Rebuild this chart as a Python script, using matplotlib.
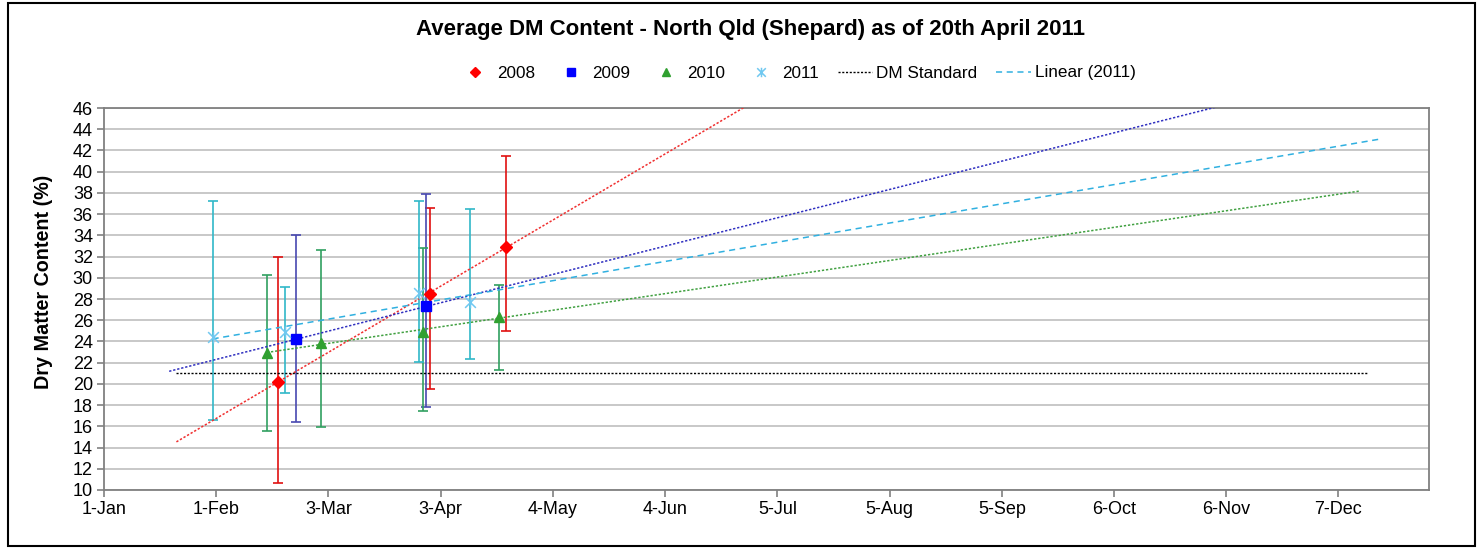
import numpy as np
import matplotlib.pyplot as plt
from matplotlib.path import Path
from matplotlib.patches import Rectangle

plt.rcParams['font.family'] = ['Liberation Sans', 'DejaVu Sans']

# x values are day of year (0 = 1-Jan), y values are DM % (mean, upper, lower)
days_2008 = [48, 90, 111]
dm_2008 = [20.2, 28.5, 32.9]
hi_2008 = [32.0, 36.6, 41.5]
lo_2008 = [10.7, 19.5, 25.0]

days_2009 = [53, 89]
dm_2009 = [24.2, 27.3]
hi_2009 = [34.0, 37.9]
lo_2009 = [16.4, 17.8]

days_2010 = [45, 60, 88, 109]
dm_2010 = [22.9, 23.9, 24.9, 26.3]
hi_2010 = [30.3, 32.6, 32.8, 29.3]
lo_2010 = [15.6, 15.9, 17.4, 21.3]

days_2011 = [30, 50, 87, 101]
dm_2011 = [24.4, 24.9, 28.6, 27.7]
hi_2011 = [37.2, 29.1, 37.2, 36.5]
lo_2011 = [16.6, 19.1, 22.1, 22.3]

# trendline extent (days) incl. forecast
trend_2008 = [20, 200]
trend_2009 = [18, 320]
trend_2010 = [45, 347]
trend_2011 = [30, 353]

dm_standard = 21
std_days = [20, 349]

tick_days = [0, 31, 62, 93, 124, 155, 186, 217, 248, 279, 310, 341]
tick_labels = ['1-Jan', '1-Feb', '3-Mar', '3-Apr', '4-May', '4-Jun',
               '5-Jul', '5-Aug', '5-Sep', '6-Oct', '6-Nov', '7-Dec']

# excel "star" marker: x with a vertical bar
star = Path([(-1, -1), (1, 1), (-1, 1), (1, -1), (0, -1.1), (0, 1.1)],
            [Path.MOVETO, Path.LINETO, Path.MOVETO, Path.LINETO, Path.MOVETO, Path.LINETO])

W, H = 1482, 549
fig = plt.figure(figsize=(W / 100, H / 100), dpi=100)
ax = fig.add_axes([104 / W, 1 - 490 / H, (1429 - 104) / W, (490 - 108) / H])

series = [
    ('2008', days_2008, dm_2008, hi_2008, lo_2008, trend_2008, 'D', 6, 'red', '#e01010', '#f03030', (0, (1.5, 1.2))),
    ('2009', days_2009, dm_2009, hi_2009, lo_2009, trend_2009, 's', 7.5, '#0000ff', '#4848b0', '#3030c0', (0, (1.5, 1.2))),
    ('2010', days_2010, dm_2010, hi_2010, lo_2010, trend_2010, '^', 7, '#30a030', '#30a060', '#40a040', (0, (1.5, 1.2))),
    ('2011', days_2011, dm_2011, hi_2011, lo_2011, trend_2011, star, 8.5, '#70c8f0', '#30b8c8', '#30b0e0', (0, (4, 3))),
]

handles = []
for name, d, m, hi, lo, tr, mk, ms, mc, ec, tc, ls in series:
    d = np.array(d, float)
    m = np.array(m, float)
    ax.errorbar(d, m, yerr=[m - np.array(lo), np.array(hi) - m], fmt='none',
                ecolor=ec, elinewidth=1.2, capsize=3.5, capthick=1.2, zorder=3)
    coef = np.polyfit(d, m, 1)
    xs = np.array(tr, float)
    tline, = ax.plot(xs, np.polyval(coef, xs), color=tc, lw=1.1, ls=ls, zorder=4)
    if mk is star:
        h, = ax.plot(d, m, ls='none', marker=mk, ms=ms, mfc='none', mec=mc, mew=1.1, zorder=5, label=name)
        trend_2011_line = tline
    else:
        h, = ax.plot(d, m, ls='none', marker=mk, ms=ms, color=mc, zorder=5, label=name)
    handles.append(h)

std_line, = ax.plot(std_days, [dm_standard, dm_standard], color='black', lw=1.0,
                    ls=(0, (1.5, 1.2)), zorder=4)
handles.append(std_line)
handles.append(trend_2011_line)
labels = ['2008', '2009', '2010', '2011', 'DM Standard', 'Linear (2011)']

ax.set_xlim(0, 366)
ax.set_ylim(10, 46)
ax.set_xticks(tick_days)
ax.set_xticklabels(tick_labels)
ax.set_yticks(np.arange(10, 47, 2))
ax.yaxis.grid(True, color='#c4c4c4', lw=1.3)
ax.set_axisbelow(True)
for s in ax.spines.values():
    s.set_color('#808080')
    s.set_linewidth(1.3)
ax.tick_params(direction='out', length=5, width=1.2, color='#808080', labelsize=13, pad=3)

fig.legend(handles, labels, loc='center', bbox_to_anchor=(797 / W, 1 - 73 / H), ncol=6,
           frameon=False, fontsize=12.3, handlelength=2.0, handletextpad=0.25,
           columnspacing=1.1, markerscale=0.8)

fig.text(751 / W, 1 - 30 / H, 'Average DM Content - North Qld (Shepard) as of 20th April 2011',
         ha='center', va='center', fontsize=16, fontweight='bold')
fig.text(44 / W, 1 - 282 / H, 'Dry Matter Content (%)', rotation=90,
         ha='center', va='center', fontsize=14.2, fontweight='bold')

fig.patches.append(Rectangle((8 / W, 3 / H), (1475 - 8) / W, (546 - 3) / H, transform=fig.transFigure,
                             fill=False, edgecolor='black', lw=1.5))

fig.savefig('out.png', dpi=100)
